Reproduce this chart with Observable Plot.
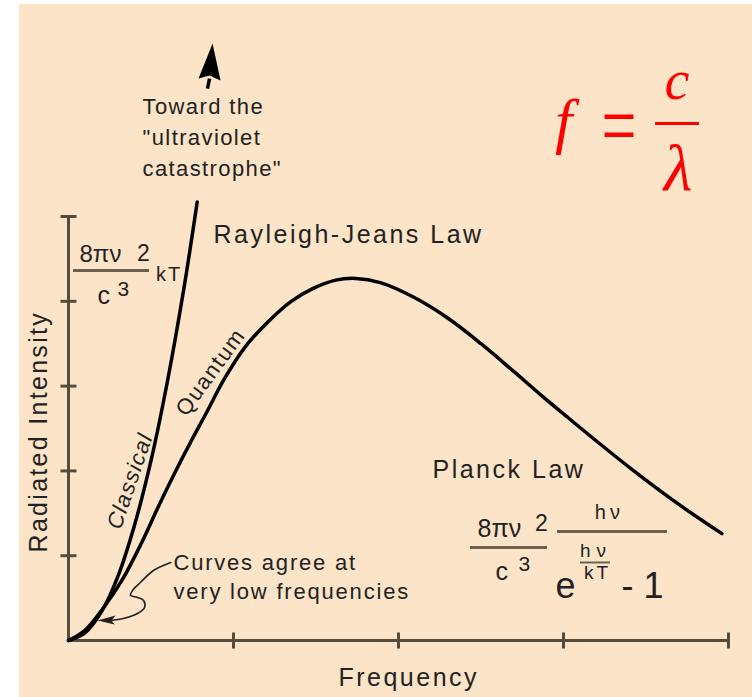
<!DOCTYPE html>
<html>
<head>
<meta charset="utf-8">
<script src="https://cdn.jsdelivr.net/npm/d3@7"></script>
<script src="https://cdn.jsdelivr.net/npm/@observablehq/plot@0.6"></script>
<style>
html, body { margin: 0; padding: 0; background: #ffffff; }
#chart { position: absolute; left: 19px; top: 4px; width: 733px; height: 693px; }
</style>
</head>
<body>
<div id="chart"></div>
<script>
// ---- data (x: frequency in tick units, y: radiated intensity in tick units) ----
const xTicks = [1, 2, 3, 4];
const yTicks = [1, 2, 3, 4, 5];

const classicalX = [0, 0.1, 0.2, 0.3, 0.4, 0.5, 0.6, 0.7, 0.78];
const classicalY = [0, 0.09, 0.34, 0.76, 1.36, 2.12, 3.06, 4.16, 5.17];

const quantumX = [0, 0.10, 0.21, 0.33, 0.44, 0.54, 0.64, 0.74, 0.84, 0.94, 1.07, 1.21, 1.35, 1.48, 1.62, 1.74, 1.89, 2.09, 2.30, 2.50, 2.70, 2.86, 3.02, 3.22, 3.42, 3.71, 3.96];
const quantumY = [0, 0.12, 0.38, 0.73, 1.14, 1.56, 1.96, 2.34, 2.70, 3.07, 3.46, 3.76, 4.00, 4.15, 4.25, 4.27, 4.22, 4.05, 3.80, 3.50, 3.17, 2.90, 2.64, 2.32, 2.01, 1.59, 1.26];

const pointerX = [0.62, 0.515, 0.436, 0.388, 0.376, 0.418, 0.455, 0.461, 0.418, 0.333, 0.255];
const pointerY = [0.92, 0.825, 0.684, 0.59, 0.531, 0.507, 0.472, 0.389, 0.318, 0.259, 0.236];

const axisLabels = ["Frequency", "Radiated Intensity"];
const curveLabels = ["Classical", "Quantum"];
const lawLabels = ["Rayleigh-Jeans Law", "Planck Law"];
const notes = ["Toward the\n\"ultraviolet\ncatastrophe\"", "Curves agree at\nvery low frequencies"];
const rjFormula = ["8πν", "2", "c", "3", "kT"];
const planckFormula = ["8πν", "2", "c", "3", "hν", "hν", "kT", "e", "- 1"];
const redFormula = ["f", "=", "c", "λ"];

// ---- build ----
const classical = classicalX.map((x, i) => ({x, y: classicalY[i]}));
const quantum = quantumX.map((x, i) => ({x, y: quantumY[i]}));
const pointer = pointerX.map((x, i) => ({x, y: pointerY[i]}));

const sans = "'Liberation Sans', Arial, Helvetica, sans-serif";
const serif = "'Liberation Serif', 'Times New Roman', serif";
const ink = "#222222";
const axisInk = "#554c3e";
const barInk = "#6b6150";
const red = "#ff0000";

const vTick = {draw(ctx) { ctx.moveTo(0, -8); ctx.lineTo(0, 8); }};
const hTick = {draw(ctx) { ctx.moveTo(-8, 0); ctx.lineTo(8, 0); }};
const upHead = {draw(ctx) { ctx.moveTo(0, 0); ctx.lineTo(8, 37); ctx.lineTo(-3, 32); ctx.lineTo(-14, 35); ctx.closePath(); }};
const leftHead = {draw(ctx) { ctx.moveTo(0, 0); ctx.lineTo(18, -5); ctx.lineTo(14, 0); ctx.lineTo(17, 4); ctx.closePath(); }};

const spacing = new Map();  // text + size -> letter-spacing (px)
const stretch = new Map();  // text + size -> vertical scale
function label(str, x, y, o = {}) {
  const {size = 22, ls = 0, sy = 0, ...rest} = o;
  const key = str.replace(/\n/g, "") + "|" + size;
  if (ls) spacing.set(key, ls);
  if (sy) stretch.set(key, sy);
  return Plot.text([str], {
    x, y, text: d => d, fontSize: size, fontFamily: sans,
    textAnchor: "start", lineAnchor: "bottom", fill: ink, ...rest
  });
}
function bar(x1, x2, y, o = {}) {
  return Plot.ruleY([y], {x1, x2, y: d => d, stroke: barInk, strokeWidth: 3, ...o});
}

const plot = Plot.plot({
  width: 733,
  height: 693,
  marginLeft: 49,
  marginRight: 24,
  marginTop: 212,
  marginBottom: 57,
  x: {domain: [0, 4], axis: null},
  y: {domain: [0, 5], axis: null},
  style: {background: "#fce4c8", overflow: "visible", fontFamily: sans},
  marks: [
    // axes
    Plot.ruleY([0], {stroke: axisInk, strokeWidth: 3}),
    Plot.ruleX([0], {stroke: axisInk, strokeWidth: 3}),
    Plot.dot(xTicks, {x: d => d, y: 0, symbol: vTick, stroke: axisInk, strokeWidth: 3, fill: "none"}),
    Plot.dot(yTicks, {x: 0, y: d => d, symbol: hTick, stroke: axisInk, strokeWidth: 3, fill: "none"}),

    // curves
    Plot.line(classical, {x: "x", y: "y", curve: "catmull-rom", stroke: "#000", strokeWidth: 3.5}),
    Plot.line(quantum, {x: "x", y: "y", curve: "catmull-rom", stroke: "#000", strokeWidth: 3.5}),

    // ultraviolet arrow
    Plot.link([0], {x1: 0.842, y1: 6.509, x2: 0.855, y2: 6.627, stroke: "#000", strokeWidth: 3.5}),
    Plot.dot([0], {x: 0.873, y: 7.04, symbol: upHead, fill: "#000", stroke: "none"}),

    // low-frequency pointer
    Plot.line(pointer, {x: "x", y: "y", curve: "catmull-rom", stroke: ink, strokeWidth: 1.6}),
    Plot.dot([0], {x: 0.176, y: 0.236, symbol: leftHead, fill: ink, stroke: "none"}),

    // labels
    label(notes[0], 0.4485, 5.478, {size: 22, ls: 1.4, lineHeight: 1.41}),
    label(notes[1], 0.636, 0.495, {size: 22, ls: 1.8, lineHeight: 1.318}),
    label(lawLabels[0], 0.879, 4.682, {size: 25, ls: 2.5}),
    label(lawLabels[1], 2.206, 1.922, {size: 25, ls: 2.5}),
    label(axisLabels[0], 1.636, -0.531, {size: 25, ls: 2.5}),
    label(axisLabels[1], -0.1333, 1.038, {size: 25, ls: 2.3, rotate: -90}),
    label(curveLabels[0], 0.315, 1.297, {size: 22, ls: 1.3, rotate: -71, fontStyle: "italic"}),
    label(curveLabels[1], 0.715, 2.63, {size: 22, ls: 1.6, rotate: -54}),

    // Rayleigh-Jeans formula
    label(rjFormula[0], 0.0667, 4.458, {size: 24}),
    label(rjFormula[1], 0.415, 4.481, {size: 23}),
    bar(0.0303, 0.491, 4.363),
    label(rjFormula[2], 0.176, 3.974, {size: 25}),
    label(rjFormula[3], 0.297, 4.068, {size: 21}),
    label(rjFormula[4], 0.530, 4.245, {size: 20, ls: 2}),

    // Planck formula
    label(planckFormula[0], 2.479, 1.215, {size: 25}),
    label(planckFormula[1], 2.827, 1.297, {size: 23}),
    bar(2.436, 2.903, 1.097),
    label(planckFormula[2], 2.588, 0.708, {size: 25}),
    label(planckFormula[3], 2.727, 0.825, {size: 21}),
    label(planckFormula[4], 3.190, 1.427, {size: 20, ls: 4}),
    bar(2.964, 3.630, 1.285),
    label(planckFormula[5], 3.100, 0.979, {size: 19, ls: 6}),
    bar(3.103, 3.285, 0.920, {strokeWidth: 2}),
    label(planckFormula[6], 3.124, 0.731, {size: 19, ls: 3}),
    label(planckFormula[7], 2.952, 0.507, {size: 36}),
    label(planckFormula[8], 3.352, 0.507, {size: 36}),

    // f = c / lambda
    label(redFormula[0], 3.0, 5.884, {size: 62, fontFamily: serif, fontStyle: "italic", textAnchor: "middle", fill: red}),
    label(redFormula[1], 3.336, 5.73, {size: 62, sy: 1.45, fontFamily: serif, textAnchor: "middle", fill: red}),
    label(redFormula[2], 3.688, 6.380, {size: 56, fontFamily: serif, fontStyle: "italic", textAnchor: "middle", fill: red}),
    bar(3.558, 3.824, 6.097, {stroke: red, strokeWidth: 3}),
    label(redFormula[3], 3.694, 5.307, {size: 66, fontFamily: serif, fontStyle: "italic", textAnchor: "middle", fill: red})
  ]
});

// apply letter spacing / vertical stretch to the matching text elements
plot.querySelectorAll("g[aria-label='text']").forEach(g => {
  const size = +g.getAttribute("font-size");
  g.querySelectorAll("text").forEach(t => {
    const key = t.textContent + "|" + size;
    const ls = spacing.get(key);
    if (ls) t.style.letterSpacing = ls + "px";
    const sy = stretch.get(key);
    if (sy) t.setAttribute("transform", (t.getAttribute("transform") || "") + ` scale(1,${sy})`);
  });
});

document.getElementById("chart").appendChild(plot);
</script>
</body>
</html>
